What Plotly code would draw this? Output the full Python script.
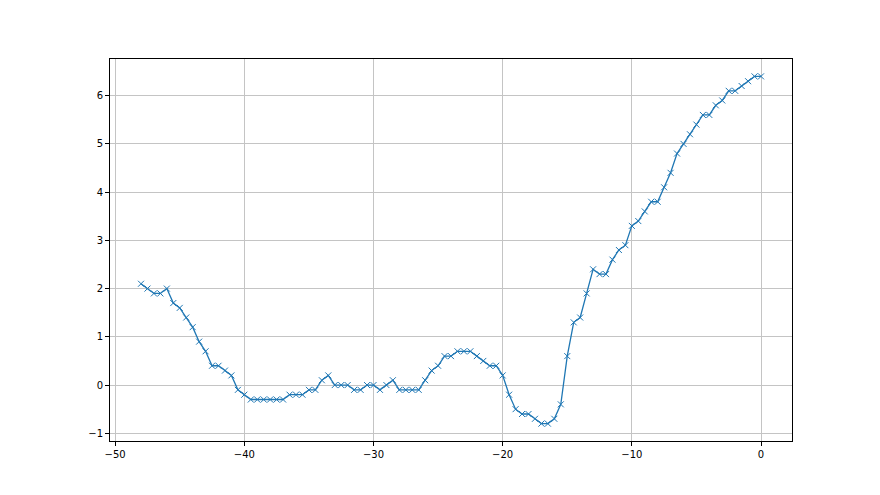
import plotly.graph_objects as go

x_values = [-48 + 0.5 * i for i in range(97)]
y_values = [
    2.1, 2.0, 1.9, 1.9, 2.0, 1.7, 1.6, 1.4, 1.2, 0.9,
    0.7, 0.4, 0.4, 0.3, 0.2, -0.1, -0.2, -0.3, -0.3, -0.3,
    -0.3, -0.3, -0.3, -0.2, -0.2, -0.2, -0.1, -0.1, 0.1, 0.2,
    0.0, 0.0, 0.0, -0.1, -0.1, 0.0, 0.0, -0.1, 0.0, 0.1,
    -0.1, -0.1, -0.1, -0.1, 0.1, 0.3, 0.4, 0.6, 0.6, 0.7,
    0.7, 0.7, 0.6, 0.5, 0.4, 0.4, 0.2, -0.2, -0.5, -0.6,
    -0.6, -0.7, -0.8, -0.8, -0.7, -0.4, 0.6, 1.3, 1.4, 1.9,
    2.4, 2.3, 2.3, 2.6, 2.8, 2.9, 3.3, 3.4, 3.6, 3.8,
    3.8, 4.1, 4.4, 4.8, 5.0, 5.2, 5.4, 5.6, 5.6, 5.8,
    5.9, 6.1, 6.1, 6.2, 6.3, 6.4, 6.4,
]
x_ticks = [-50, -40, -30, -20, -10, 0]
y_ticks = [-1, 0, 1, 2, 3, 4, 5, 6]

fig = go.Figure(
    go.Scatter(
        x=x_values, y=y_values, mode="lines+markers",
        line=dict(color="#1f77b4", width=1.3),
        marker=dict(symbol="x-thin", size=6, line=dict(color="#1f77b4", width=1)),
        showlegend=False,
    )
)

axis_common = dict(
    showgrid=True, gridcolor="#c4c4c4", gridwidth=1,
    showline=True, linecolor="black", linewidth=1, mirror=True,
    ticks="outside", ticklen=4, tickcolor="black", tickwidth=1,
    zeroline=False,
    tickfont=dict(family="DejaVu Sans", size=10, color="black"),
)

fig.update_layout(
    width=880, height=495,
    margin=dict(l=102, r=96, t=51, b=62),
    paper_bgcolor="white", plot_bgcolor="white",
    xaxis=dict(range=[-50.4, 2.4], tickvals=x_ticks, **axis_common),
    yaxis=dict(range=[-1.16, 6.76], tickvals=y_ticks, **axis_common),
)

fig.write_html("out.html")
